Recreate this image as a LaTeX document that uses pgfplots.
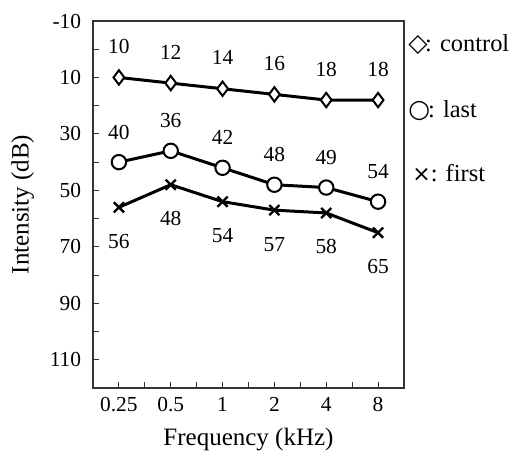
\documentclass[border=0pt]{standalone}
\usepackage{pgfplots}
\pgfplotsset{compat=1.18}
\usepackage{fontspec}
\setmainfont{Liberation Serif}
\newfontfamily\symfont{DejaVu Sans}
% number font and label font
\newcommand{\fs}{\fontsize{10.7}{12}\selectfont}
\newcommand{\fl}{\fontsize{12.5}{14}\selectfont}
\newcommand{\fg}{\fontsize{12.2}{14}\selectfont}

\begin{document}
\begin{tikzpicture}
\useasboundingbox (0,0) rectangle (255.5pt,227pt);
\begin{axis}[
  at={(46.5pt,33pt)}, anchor=south west,
  scale only axis, width=155.5pt, height=183.5pt,
  xmin=-0.5, xmax=5.5,
  ymin=-10, ymax=120, y dir=reverse,
  xtick={0,...,5},
  xticklabels={0.25,0.5,1,2,4,8},
  minor x tick num=1,
  ytick={-10,10,30,50,70,90,110},
  minor y tick num=1,
  tick align=inside,
  xtick pos=bottom, ytick pos=left,
  major tick length=3pt, minor tick length=3pt,
  every tick/.style={black!80, line width=0.5pt},
  axis line style={black!80, line width=0.7pt},
  /pgf/number format/assume math mode=true,
  tick label style={font=\fs},
  xticklabel style={yshift=-1pt},
  yticklabel style={xshift=-2.4pt},
  xlabel={Frequency (kHz)}, ylabel={Intensity (dB)},
  label style={font=\fl},
  xlabel style={at={(axis description cs:0.5,-0.141)}, anchor=center},
  ylabel style={at={(axis description cs:-0.226,0.5)}, anchor=center},
  clip=false,
  nodes near coords,
  every node near coord/.append style={font=\fs, anchor=center, text=black},
]
\addplot[black, line width=1.5pt, mark=diamond*, mark size=3.6pt,
  mark options={fill=white, line width=1pt},
  every node near coord/.append style={yshift=15.5pt}]
  coordinates {(0,10) (1,12) (2,14) (3,16) (4,18) (5,18)};
\addplot[black, line width=1.5pt, mark=*, mark size=3.6pt,
  mark options={fill=white, line width=1pt},
  every node near coord/.append style={yshift=15pt}]
  coordinates {(0,40) (1,36) (2,42) (3,48) (4,49) (5,54)};
\addplot[black, line width=1.5pt, mark=x, mark size=3.6pt,
  mark options={line width=1.2pt},
  every node near coord/.append style={yshift=-17pt}]
  coordinates {(0,56) (1,48) (2,54) (3,57) (4,58) (5,65)};
\end{axis}
\node[anchor=west, inner sep=0pt, font=\fg] at (204pt,204.5pt) {{\symfont\fontsize{12.5}{13}\selectfont ◇}\kern-1.2pt: control};
\node[anchor=west, inner sep=0pt, font=\fg] at (204pt,171.5pt) {{\symfont\fontsize{12.5}{12.5}\selectfont ○}\kern-1pt: last};
\node[anchor=west, inner sep=0pt, font=\fg] at (206pt,140.5pt) {{\symfont\fontsize{11}{11}\selectfont ×}: first};
\end{tikzpicture}
\end{document}
